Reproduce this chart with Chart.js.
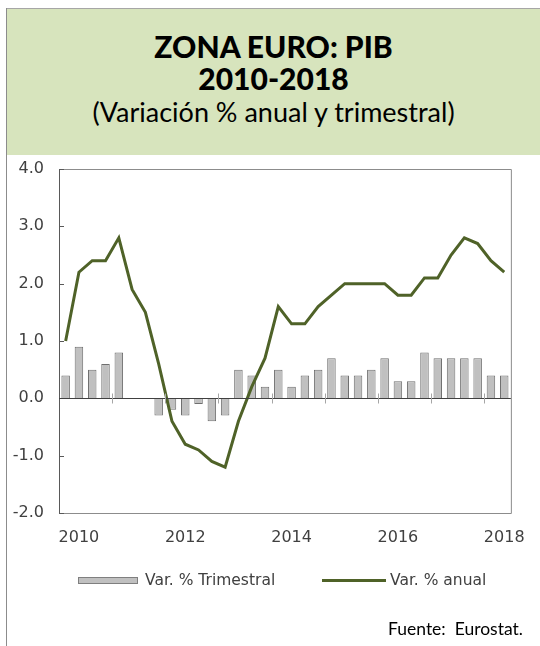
<!DOCTYPE html>
<html>
<head>
<meta charset="utf-8">
<script src="https://cdn.jsdelivr.net/npm/chart.js@4.4.1/dist/chart.umd.min.js"></script>
<style>
  body { margin: 0; background: #fff; }
  #page { position: relative; width: 540px; height: 646px; overflow: hidden; font-family: "DejaVu Sans", sans-serif; color: #404040; }
  #titlebox { position: absolute; left: 7px; top: 8px; width: 533px; height: 146px; background: #d7e4bd; border-top: 1px solid #a6a6a6; }
  #leftrule { position: absolute; left: 6px; top: 8px; width: 1px; height: 638px; background: #8c8c8c; }
  .t1 { position: absolute; left: 7px; width: 533px; text-align: center; font-family: Lato, sans-serif; font-weight: 900; font-size: 30px; line-height: 32px; color: #000; }
  .t2 { position: absolute; left: 7px; width: 533px; text-align: center; font-family: Lato, sans-serif; font-size: 27px; line-height: 30px; color: #000; }
  #chartwrap { position: absolute; left: 0; top: 0; width: 540px; height: 646px; }
  .leg { position: absolute; font-size: 15.5px; color: #404040; line-height: 18px; }
  #src { position: absolute; left: 388px; top: 619px; font-family: Lato, sans-serif; font-size: 17.5px; line-height: 20px; color: #000; }
</style>
</head>
<body>
<div id="page">
  <div id="titlebox"></div>
  <div id="leftrule"></div>
  <div class="t1" style="top:30px">ZONA EURO: PIB</div>
  <div class="t1" style="top:62px">2010-2018</div>
  <div class="t2" style="top:97px">(Variación % anual y trimestral)</div>
  <div id="chartwrap"><canvas id="c" width="540" height="646"></canvas></div>
  <div class="leg" style="left:78px; top:577px; width:60px; height:7px; background:#c0c0c0; border:1px solid #7f7f7f; box-sizing:border-box;"></div>
  <div class="leg" style="left:145px; top:571px;">Var. % Trimestral</div>
  <div class="leg" style="left:322px; top:579px; width:64px; height:3px; background:#4f6228;"></div>
  <div class="leg" style="left:390px; top:571px;">Var. % anual</div>
  <div id="src">Fuente:&nbsp; Eurostat.</div>
</div>
<script>
const quarters = [
  "2010 T1","2010 T2","2010 T3","2010 T4",
  "2011 T1","2011 T2","2011 T3","2011 T4",
  "2012 T1","2012 T2","2012 T3","2012 T4",
  "2013 T1","2013 T2","2013 T3","2013 T4",
  "2014 T1","2014 T2","2014 T3","2014 T4",
  "2015 T1","2015 T2","2015 T3","2015 T4",
  "2016 T1","2016 T2","2016 T3","2016 T4",
  "2017 T1","2017 T2","2017 T3","2017 T4",
  "2018 T1","2018 T2"
];
// variacion trimestral (barras)
const varTrimestral = [
  0.4, 0.9, 0.5, 0.6,
  0.8, 0.0, 0.0, -0.3,
  -0.2, -0.3, -0.1, -0.4,
  -0.3, 0.5, 0.4, 0.2,
  0.5, 0.2, 0.4, 0.5,
  0.7, 0.4, 0.4, 0.5,
  0.7, 0.3, 0.3, 0.8,
  0.7, 0.7, 0.7, 0.7,
  0.4, 0.4
];
// variacion anual (linea)
const varAnual = [
  1.0, 2.2, 2.4, 2.4,
  2.8, 1.9, 1.5, 0.6,
  -0.4, -0.8, -0.9, -1.1,
  -1.2, -0.4, 0.2, 0.7,
  1.6, 1.3, 1.3, 1.6,
  1.8, 2.0, 2.0, 2.0,
  2.0, 1.8, 1.8, 2.1,
  2.1, 2.5, 2.8, 2.7,
  2.4, 2.2
];
const yearLabels = ["2010", "2012", "2014", "2016", "2018"];
const yearLabelIdx = [1, 9, 17, 25, 33];
const tickEvery = 4;

const axisPlugin = {
  id: "axisPlugin",
  beforeDatasetsDraw(chart) {
    const { ctx, chartArea: a, scales: { x, y } } = chart;
    ctx.save();
    // marco del area de trazado
    ctx.strokeStyle = "#8c8c8c";
    ctx.lineWidth = 1;
    ctx.beginPath();
    ctx.moveTo(a.left, a.top + 0.5);
    ctx.lineTo(a.right + 0.5, a.top + 0.5);
    ctx.lineTo(a.right + 0.5, a.bottom + 0.5);
    ctx.lineTo(a.left, a.bottom + 0.5);
    ctx.stroke();
    // eje vertical
    ctx.strokeStyle = "#595959";
    ctx.beginPath();
    ctx.moveTo(a.left + 0.5, a.top);
    ctx.lineTo(a.left + 0.5, a.bottom + 1);
    ctx.stroke();
    y.ticks.forEach(t => {
      const py = Math.round(y.getPixelForValue(t.value)) + 0.5;
      ctx.beginPath();
      ctx.moveTo(a.left, py);
      ctx.lineTo(a.left + 5, py);
      ctx.stroke();
    });
    ctx.restore();
  },
  afterDatasetsDraw(chart) {
    const { ctx, chartArea: a, scales: { x, y } } = chart;
    const y0 = Math.round(y.getPixelForValue(0)) + 0.5;
    ctx.save();
    ctx.strokeStyle = "#404040";
    ctx.lineWidth = 1;
    ctx.beginPath();
    ctx.moveTo(a.left, y0);
    ctx.lineTo(a.right, y0);
    ctx.stroke();
    ctx.strokeStyle = "#a6a6a6";
    for (let i = tickEvery; i < quarters.length; i += tickEvery) {
      const px = Math.round((x.getPixelForValue(i - 1) + x.getPixelForValue(i)) / 2) + 0.5;
      ctx.beginPath();
      ctx.moveTo(px, y0 - 5);
      ctx.lineTo(px, y0 + 5);
      ctx.stroke();
    }
    ctx.restore();
  }
};

new Chart(document.getElementById("c"), {
  type: "bar",
  data: {
    labels: quarters,
    datasets: [
      {
        type: "line",
        label: "Var. % anual",
        data: varAnual,
        borderColor: "#4f6228",
        borderWidth: 3,
        pointRadius: 0,
        tension: 0,
        order: 0
      },
      {
        type: "bar",
        label: "Var. % Trimestral",
        data: varTrimestral,
        backgroundColor: "#c0c0c0",
        borderColor: "#6f6f6f",
        borderWidth: 1,
        barPercentage: 0.64,
        categoryPercentage: 1.0,
        order: 1
      }
    ]
  },
  options: {
    responsive: false,
    animation: false,
    layout: { padding: { left: 0, right: 28, top: 169, bottom: 93 } },
    plugins: { legend: { display: false }, tooltip: { enabled: false } },
    scales: {
      x: {
        grid: { display: false, drawTicks: false },
        border: { display: false },
        ticks: {
          autoSkip: false,
          maxRotation: 0,
          padding: 15,
          color: "#404040",
          font: { family: "DejaVu Sans", size: 16 },
          callback: (v, i) => {
            const k = yearLabelIdx.indexOf(i);
            return k >= 0 ? yearLabels[k] : "";
          }
        },
        afterFit: s => { s.height = 40; }
      },
      y: {
        min: -2,
        max: 4,
        grid: { display: false, drawTicks: false },
        border: { display: false },
        ticks: {
          stepSize: 1,
          padding: 15,
          color: "#404040",
          font: { family: "DejaVu Sans", size: 16 },
          callback: v => v.toFixed(1)
        },
        afterFit: s => { s.width = 59; }
      }
    }
  },
  plugins: [axisPlugin]
});
</script>
</body>
</html>
